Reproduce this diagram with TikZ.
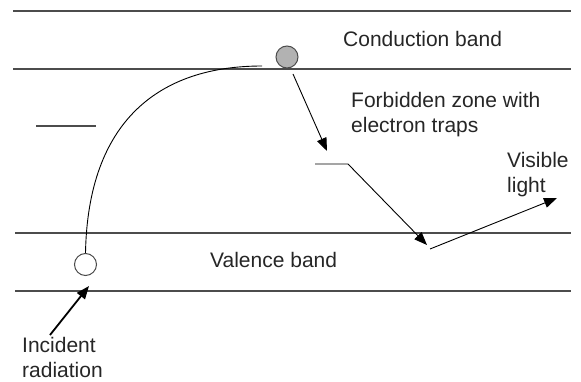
\documentclass[tikz,border=0pt]{standalone}
\usepackage{fontspec}
\setmainfont{Liberation Sans}
\usetikzlibrary{arrows.meta}
\begin{document}
\begin{tikzpicture}[x=1pt,y=-1pt,
  band/.style={draw=black!70, line width=1.3pt},
  lbl/.style={anchor=base west, inner sep=0pt, align=left, text=black!85,
    font=\fontsize{21}{25}\selectfont},
  arr/.style={-{Triangle[length=13pt,width=10pt]}, line width=0.9pt},
  ball/.style={circle, draw=black!70, line width=1pt, minimum size=22pt, inner sep=0pt}]
\useasboundingbox (0,0) rectangle (581,382);
% band edges
\coordinate (t1) at (13,11);   \coordinate (t2) at (571,11);
\coordinate (c1) at (13,69);   \coordinate (c2) at (571,69);
\coordinate (v1) at (15,233);  \coordinate (v2) at (571,233);
\coordinate (w1) at (15,291);  \coordinate (w2) at (571,291);
\draw[band] (t1) -- (t2);
\draw[band] (c1) -- (c2);
\draw[band] (v1) -- (v2);
\draw[band] (w1) -- (w2);
% isolated level
\coordinate (s1) at (36,126); \coordinate (s2) at (96,126);
\draw[band, line width=1.1pt] (s1) -- (s2);
% electron and hole
\node[ball, fill=black!30] (e) at (287,57) {};
\node[ball, fill=white] (h) at (85.5,264.5) {};
% excitation path
\coordinate (ce) at (262,66);
\draw[line width=0.9pt] (h.north) .. controls (88,120) and (160,66) .. (ce);
% fall to trap
\coordinate (a1) at (293,74); \coordinate (a2) at (327,151);
\draw[arr] (a1) -- (a2);
% trap level and release
\coordinate (p1) at (315,164); \coordinate (p2) at (348,164); \coordinate (p3) at (427,245);
\draw[arr] (p1) -- (p2) -- (p3);
% visible light
\coordinate (l1) at (430,249); \coordinate (l2) at (557,198);
\draw[arr] (l1) -- (l2);
% incident radiation
\coordinate (i1) at (50,335); \coordinate (i2) at (89,286);
\draw[arr, line width=1.8pt] (i1) -- (i2);
% labels
\node[lbl] (cb) at (343,47) {Conduction band};
\node[lbl] (fz) at (351,133) {Forbidden zone with\\electron traps};
\node[lbl] (vl) at (507,193) {Visible\\light};
\node[lbl] (vb) at (210,268) {Valence band};
\node[lbl] (ir) at (22,377) {Incident\\radiation};
\end{tikzpicture}
\end{document}
